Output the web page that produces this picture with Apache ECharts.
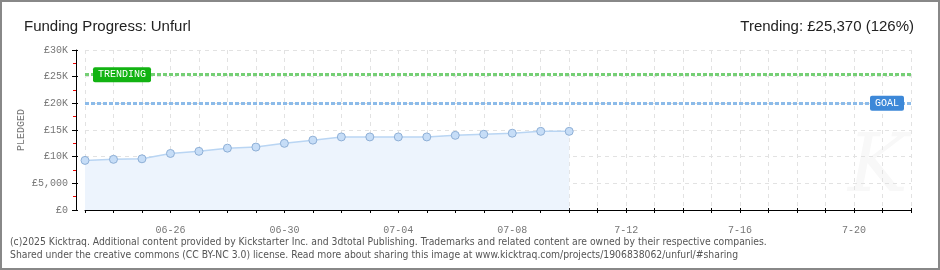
<!DOCTYPE html>
<html><head><meta charset="utf-8">
<script src="https://cdn.jsdelivr.net/npm/echarts@6/dist/echarts.min.js"></script>
<style>html,body{margin:0;padding:0;background:#fff}#w{position:relative;width:940px;height:270px}#c{width:940px;height:270px}#b{position:absolute;left:0;top:0;width:940px;height:270px;box-sizing:border-box;border:2px solid #888;pointer-events:none}</style>
</head><body><div id="w"><div id="c"></div><div id="b"></div></div>
<script>
const categories = ['06-23','06-24','06-25','06-26','06-27','06-28','06-29','06-30','07-01','07-02','07-03','07-04','07-05','07-06','07-07','07-08','07-09','07-10','07-11','07-12','07-13','07-14','07-15','07-16','07-17','07-18','07-19','07-20','07-21','07-22'];
const xTickLabels = {'06-26':'06-26','06-30':'06-30','07-04':'07-04','07-08':'07-08','07-12':'7-12','07-16':'7-16','07-20':'7-20'};
const pledged = [9300,9500,9600,10600,11000,11600,11800,12500,13100,13700,13700,13700,13700,14000,14200,14400,14750,14750];
const yTickLabels = {0:'£0',5000:'£5,000',10000:'£10K',15000:'£15K',20000:'£20K',25000:'£25K',30000:'£30K'};
const goal = 20000;
const trending = 25370;
const titleText = 'Funding Progress: Unfurl';
const trendText = 'Trending: £25,370 (126%)';
const footer1 = '(c)2025 Kicktraq. Additional content provided by Kickstarter Inc. and 3dtotal Publishing. Trademarks and related content are owned by their respective companies.';
const footer2 = 'Shared under the creative commons (CC BY-NC 3.0) license. Read more about sharing this image at www.kicktraq.com/projects/1906838062/unfurl/#sharing';

const chart = echarts.init(document.getElementById('c'));
const mono = 'Liberation Mono';
const grid = {left: 85, right: 29, top: 50, bottom: 60};
const xBase = {type:'category', data:categories, boundaryGap:false, offset:9, position:'bottom'};
const yBase = {type:'value', min:0, max:30000, interval:5000, offset:9, position:'left'};
chart.setOption({
  animation:false,
  textStyle:{fontFamily:'Liberation Sans'},
  title:[
    {text:titleText, left:19, top:14, textStyle:{fontSize:15, fontWeight:'normal', color:'#222', fontFamily:'Liberation Sans'}},
    {text:trendText, right:21, top:14, textStyle:{fontSize:15, fontWeight:'normal', color:'#222', fontFamily:'Liberation Sans'}}
  ],
  graphic:[
    {type:'text', left:10, top:237, style:{text:footer1, fill:'#555', font:'10.3px "DejaVu Sans Condensed", "Liberation Sans"'}},
    {type:'text', left:10, top:250, style:{text:footer2, fill:'#555', font:'10.3px "DejaVu Sans Condensed", "Liberation Sans"'}},
    {type:'text', left:848, top:130, z:0, style:{text:'K', fill:'#f8f8f8', font:'italic 80px "DejaVu Serif"'}}
  ],
  grid:grid,
  xAxis:[
    Object.assign({}, xBase, {
      axisLine:{lineStyle:{color:'#000', width:1}},
      axisTick:{show:true, interval:0, length:3, lineStyle:{color:'#000'}},
      axisLabel:{interval:(i)=> i%4===3, formatter:(v)=> xTickLabels[v]||'', color:'#777', fontFamily:mono, fontSize:10, margin:6},
      splitLine:{show:true, interval:0, lineStyle:{color:'#e2e2e2', type:[4,4]}}
    }),
    Object.assign({}, xBase, {
      axisLine:{show:false},
      axisTick:{show:true, inside:true, interval:0, length:2, lineStyle:{color:'#000'}},
      axisLabel:{show:false}, splitLine:{show:false}
    })
  ],
  yAxis:[
    Object.assign({}, yBase, {
      axisLine:{show:true, lineStyle:{color:'#000', width:1}},
      axisTick:{show:true, length:4, lineStyle:{color:'#000'}},
      minorTick:{show:true, splitNumber:2, length:3, lineStyle:{color:'#e00'}},
      axisLabel:{formatter:(v)=> yTickLabels[v]||'', color:'#777', fontFamily:mono, fontSize:10, margin:8},
      splitLine:{show:true, lineStyle:{color:'#e2e2e2', type:[4,4]}},
      name:'PLEDGED', nameLocation:'middle', nameGap:50, nameRotate:90, nameMoveOverlap:false,
      nameTextStyle:{color:'#777', fontFamily:mono, fontSize:10}
    }),
    Object.assign({}, yBase, {
      axisLine:{show:false},
      axisTick:{show:true, inside:true, length:2, lineStyle:{color:'#000'}},
      axisLabel:{show:false}, splitLine:{show:false}
    })
  ],
  series:[{
    type:'line', data:pledged, xAxisIndex:0, yAxisIndex:0,
    symbol:'circle', symbolSize:8,
    lineStyle:{color:'#b9d5f3', width:1.5},
    itemStyle:{color:'#c6ddf7', borderColor:'#8eafd6', borderWidth:1},
    areaStyle:{color:'#edf4fd', opacity:1},
    z:3,
    markLine:{
      silent:true, symbol:'none',
      data:[
        {yAxis:trending, lineStyle:{color:'#75cf75', width:3, type:[4,2]},
         label:{show:true, position:'insideStart', distance:8, formatter:'TRENDING', color:'#fff', backgroundColor:'#12b312', padding:[3,5,2,5], borderRadius:2, fontFamily:mono, fontSize:10}},
        {yAxis:goal, lineStyle:{color:'#8cbbe9', width:3, type:[4,2]},
         label:{show:true, position:'insideEnd', distance:7, formatter:'GOAL', color:'#fff', backgroundColor:'#3d88d8', padding:[3,5,2,5], borderRadius:2, fontFamily:mono, fontSize:10}}
      ]
    }
  }]
});
</script></body></html>
